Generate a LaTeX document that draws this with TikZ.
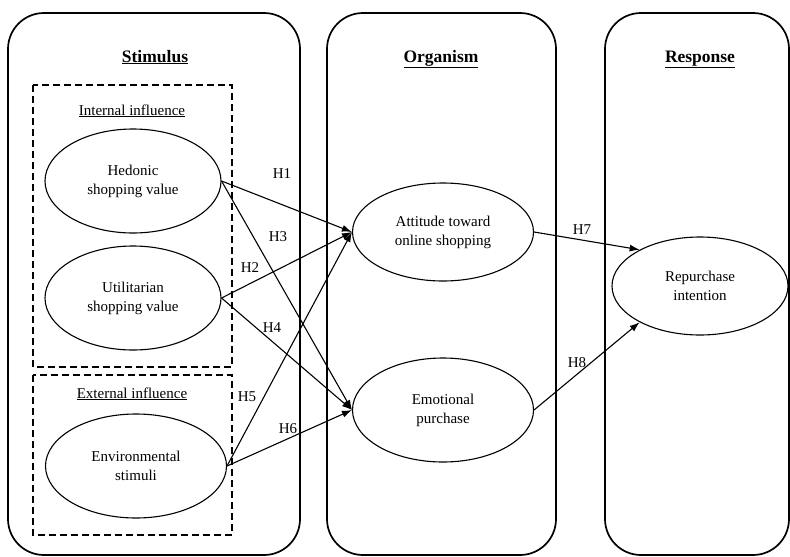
\documentclass[tikz,border=0pt]{standalone}
\usepackage{fontspec}
\setmainfont{Liberation Serif}
\usetikzlibrary{shapes.geometric,arrows.meta}
\begin{document}
\begin{tikzpicture}[x=1pt,y=-1pt,
 panel/.style={draw,line width=1.7pt,rounded corners=36pt},
 grp/.style={draw,line width=2.4pt,dash pattern=on 7pt off 4pt},
 ell/.style={draw,ellipse,line width=1.1pt,minimum width=176pt,minimum height=104pt,inner sep=0pt,font=\fontsize{15}{19}\selectfont,align=center},
 arr/.style={line width=1.1pt,-{Latex[length=10pt,width=7pt]}},
 hl/.style={font=\fontsize{15}{19}\selectfont,inner sep=0pt},
 ttl/.style={font=\fontsize{17.5}{21}\selectfont\bfseries,inner sep=0pt,anchor=base},
 sub/.style={font=\fontsize{15}{19}\selectfont,inner sep=0pt,anchor=base}]
\useasboundingbox (0,0) rectangle (790,557);
% panels
\draw[panel] (8,13) rectangle (300,555);
\draw[panel] (327,13) rectangle (556,555);
\draw[panel] (605,13) rectangle (789,555);
\node[ttl] (tS) at (155,62) {\underline{Stimulus}};
\node[ttl] (tO) at (441,62) {\underline{Organism}};
\node[ttl] (tR) at (700,62) {\underline{Response}};
% dashed groups
\draw[grp] (33,85) rectangle (232,367);
\draw[grp] (33,375) rectangle (232,535);
\node[sub] (gi) at (132,115) {\underline{Internal influence}};
\node[sub] (ge) at (132,398) {\underline{External influence}};
% ellipses
\node[ell] (hed) at (133,181) {Hedonic\\shopping value};
\node[ell] (uti) at (133,298) {Utilitarian\\shopping value};
\node[ell, minimum width=181pt] (env) at (136,466) {Environmental\\stimuli};
\node[ell, minimum width=181pt, minimum height=98pt] (att) at (443,232) {Attitude toward\\online shopping};
\node[ell, minimum width=181pt] (emo) at (443,410) {Emotional\\purchase};
\node[ell, minimum height=98pt] (rep) at (700,286) {Repurchase\\intention};
% arrows
\draw[arr] (hed.east) -- (att.west);
\draw[arr] (hed.east) -- (emo.west);
\draw[arr] (uti.east) -- (att.west);
\draw[arr] (uti.east) -- (emo.west);
\draw[arr] (env.east) -- (att.west);
\draw[arr] (env.east) -- (emo.west);
\draw[arr] (att.east) -- (rep.149);
\draw[arr] (emo.east) -- (rep.211);
% labels
\node[hl] (h1) at (282,174) {H1};
\node[hl] (h3) at (278,237) {H3};
\node[hl] (h2) at (250,268) {H2};
\node[hl] (h4) at (272,328) {H4};
\node[hl] (h5) at (247,397) {H5};
\node[hl] (h6) at (288,429) {H6};
\node[hl] (h7) at (582,230) {H7};
\node[hl] (h8) at (577,363) {H8};
\end{tikzpicture}
\end{document}
